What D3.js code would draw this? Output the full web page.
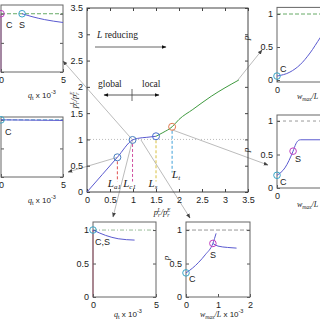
<!DOCTYPE html>
<html><head><meta charset="utf-8">
<script src="https://cdn.jsdelivr.net/npm/d3@7"></script>
<style>
body{margin:0;background:#fff}
svg{display:block}
text{font-family:"Liberation Sans",Arial,sans-serif;fill:#222}
.serif{font-family:"Liberation Serif","Times New Roman",serif}
</style></head><body>
<svg id="c" width="320" height="320"></svg>
<script>
// ---------- data ----------
const mainTicks = [0,0.5,1,1.5,2,2.5,3,3.5];
const blueCurveX = [0,0.33,0.66,0.99,1.1,1.3,1.5];
const blueCurveY = [0,0.33,0.66,0.99,1.02,1.04,1.06];
const greenCurveX = [1.5,1.65,1.85,2.0,2.3,2.7,3.3];
const greenCurveY = [1.06,1.13,1.24,1.38,1.57,1.82,2.13];
const markerX = [0.66,0.99,1.5,1.85];
const markerY = [0.66,0.99,1.06,1.24];
const markerSub = ["a1","c1","s","t"];
const markerLabelY = [0.1,0.1,0.1,0.27];

const tlCurveX = [1.7,2.5,3.5,5];      const tlCurveY = [1,0.95,0.9,0.85];
const mlCurveX = [0,2.5,5];             const mlCurveY = [1,0.995,0.99];
const trCurveX = [0,0.41,0.73,1.05,1.37,1.6]; const trCurveY = [0.06,0.12,0.23,0.41,0.64,0.8];
const mrCurveX = [0,0.25,0.51,0.6,0.68,0.75,2]; const mrCurveY = [0.19,0.3,0.55,0.66,0.71,0.72,0.72];
const blCurveX = [0,1,2,3.3];           const blCurveY = [1,0.92,0.87,0.85];
const brCurveX = [0,0.2,0.4,0.6,0.84,0.94]; const brCurveY = [0.36,0.43,0.52,0.63,0.8,0.95];
const brBranchX = [0.84,1.0,1.3,1.58];  const brBranchY = [0.8,0.76,0.74,0.73];
const qTicks = [0,5];
const wTicks = [0,1,2];
const wTicksRight = [0];
const pTicks = [0,0.5,1];

// ---------- setup ----------
const svg = d3.select("#c");
const defs = svg.append("defs");
defs.append("marker").attr("id","ah").attr("viewBox","0 0 10 10").attr("refX",9).attr("refY",5)
  .attr("markerWidth",6).attr("markerHeight",6).attr("orient","auto")
  .append("path").attr("d","M0,1 L10,5 L0,9 z").attr("fill","#444");
defs.append("marker").attr("id","ahb").attr("viewBox","0 0 10 10").attr("refX",9).attr("refY",5)
  .attr("markerWidth",6).attr("markerHeight",5).attr("orient","auto")
  .append("path").attr("d","M0,1 L10,5 L0,9 z").attr("fill","#111");

const zip = (a,b)=>a.map((v,i)=>[v,b[i]]);
const C_BLUE="#5a5ad0", C_GREEN="#3f9a3f", C_CYAN="#3aa6c8", C_MAG="#c040c0";

function box(g,x0,x1,y0,y1,col){
  g.append("rect").attr("x",x0).attr("y",y1).attr("width",x1-x0).attr("height",y0-y1)
   .attr("fill","none").attr("stroke",col||"#555").attr("stroke-width",1);
}

// ---------- connectors (behind) ----------
const conn = svg.append("g").attr("stroke","#aaa").attr("stroke-width",0.8).attr("fill","none");
const mx = d3.scaleLinear().domain([0,3.5]).range([87,248]);
const my = d3.scaleLinear().domain([0,3.5]).range([192,8]);
function connect(x1,y1,x2,y2){conn.append("line").attr("x1",x1).attr("y1",y1).attr("x2",x2).attr("y2",y2).attr("marker-end","url(#ah)");}
connect(mx(0.99),my(0.99),63,61);
connect(mx(0.66),my(0.66),68,172);
connect(mx(0.99),my(0.99),113,217);
connect(141,140,190,218);
connect(mx(1.85),my(1.24)+3,268,165);
connect(mx(3.28),my(2.13),262,50);

// ---------- main plot ----------
const main = svg.append("g");
main.append("line").attr("x1",mx(0)).attr("x2",mx(3.5)).attr("y1",my(1)).attr("y2",my(1))
  .attr("stroke","#bbb").attr("stroke-dasharray","1,2");
main.append("g").attr("transform",`translate(0,${my(0)})`)
  .call(d3.axisBottom(mx).tickValues(mainTicks).tickFormat(d3.format("")).tickSizeInner(-3).tickSizeOuter(0).tickPadding(5));
main.append("g").attr("transform",`translate(${mx(0)},0)`)
  .call(d3.axisLeft(my).tickValues(mainTicks).tickFormat(d3.format("")).tickSizeInner(-3).tickSizeOuter(0).tickPadding(4));
main.append("g").attr("transform",`translate(0,${my(3.5)})`)
  .call(d3.axisTop(mx).tickValues(mainTicks).tickFormat("").tickSizeInner(-3).tickSizeOuter(0));
main.append("g").attr("transform",`translate(${mx(3.5)},0)`)
  .call(d3.axisRight(my).tickValues(mainTicks).tickFormat("").tickSizeInner(-3).tickSizeOuter(0));
main.selectAll(".domain").remove();
main.selectAll(".tick line").attr("stroke","#444");
main.selectAll(".tick text").attr("font-size",9).attr("fill","#222").attr("font-family","Liberation Sans, Arial");
box(main,mx(0),mx(3.5),my(0),my(3.5),"#444");

const line = d3.line().x(d=>mx(d[0])).y(d=>my(d[1])).curve(d3.curveMonotoneX);
main.append("path").attr("d",line(zip(blueCurveX,blueCurveY))).attr("fill","none").attr("stroke",C_BLUE).attr("stroke-width",1);
main.append("path").attr("d",line(zip(greenCurveX,greenCurveY))).attr("fill","none").attr("stroke",C_GREEN).attr("stroke-width",1);

const dashCols = ["#e05050","#d050a0","#d8c040","#40a0d8"];
const circCols = ["#4a7fc0","#4a7fc0","#4a6fd0","#e07a50"];
markerX.forEach((x,i)=>{
  main.append("line").attr("x1",mx(x)).attr("x2",mx(x)).attr("y1",my(markerY[i])+4).attr("y2",my(markerLabelY[i]+0.1))
    .attr("stroke",dashCols[i]).attr("stroke-width",1).attr("stroke-dasharray","3,2");
  main.append("circle").attr("cx",mx(x)).attr("cy",my(markerY[i])).attr("r",3.5)
    .attr("fill","none").attr("stroke",circCols[i]).attr("stroke-width",1);
  const t = main.append("text").attr("class","serif").attr("x",mx(x)+(i==3?4:-3)).attr("y",my(markerLabelY[i])).attr("text-anchor","middle")
    .attr("font-size",11).attr("font-style","italic");
  t.append("tspan").text("L");
  t.append("tspan").attr("font-size",7).attr("dy",2).text(markerSub[i]);
});

// annotations
main.append("text").attr("class","serif").attr("x",97).attr("y",38).attr("font-size",9.5)
  .html('<tspan font-style="italic">L</tspan> reducing');
main.append("line").attr("x1",95).attr("x2",166).attr("y1",47).attr("y2",47).attr("stroke","#555").attr("stroke-width",0.9).attr("marker-end","url(#ahb)");
main.append("text").attr("class","serif").attr("x",98).attr("y",87).attr("font-size",9.5).text("global");
main.append("text").attr("class","serif").attr("x",142).attr("y",87).attr("font-size",9.5).text("local");
main.append("line").attr("x1",132).attr("x2",104).attr("y1",95).attr("y2",95).attr("stroke","#444").attr("stroke-width",0.9).attr("marker-end","url(#ahb)");
main.append("line").attr("x1",132).attr("x2",159).attr("y1",95).attr("y2",95).attr("stroke","#444").attr("stroke-width",0.9).attr("marker-end","url(#ahb)");
main.append("line").attr("x1",132).attr("x2",132).attr("y1",89).attr("y2",101).attr("stroke","#444").attr("stroke-width",0.8);

// axis labels main
function ratioLabel(t){
  t.append("tspan").text("p");t.append("tspan").attr("font-size",5.5).attr("dy",2).text("r");t.append("tspan").attr("font-size",5.5).attr("dy",-5.5).attr("dx",-2.5).text("L");
  t.append("tspan").attr("dy",3.5).text("/p");t.append("tspan").attr("font-size",5.5).attr("dy",2).text("r");t.append("tspan").attr("font-size",5.5).attr("dy",-5.5).attr("dx",-2.5).text("E");
}
ratioLabel(main.append("text").attr("class","serif").attr("x",162).attr("y",215).attr("text-anchor","middle").attr("font-size",8.5).attr("font-style","italic"));
ratioLabel(main.append("text").attr("class","serif").attr("transform","translate(77,100) rotate(-90)").attr("text-anchor","middle").attr("font-size",8.5).attr("font-style","italic"));

// ---------- subplots ----------
function sub(cfg){
  const g = svg.append("g");
  const sx = d3.scaleLinear().domain(cfg.xd).range(cfg.xr);
  const sy = d3.scaleLinear().domain(cfg.yd).range(cfg.yr);
  g.append("line").attr("x1",cfg.xr[0]).attr("x2",cfg.xr[1]).attr("y1",sy(1)).attr("y2",sy(1))
    .attr("stroke",cfg.dashCol||"#6a6").attr("stroke-width",1).attr("stroke-dasharray",cfg.dashArr||"4,2");
  if(cfg.vline) g.append("line").attr("x1",sx(0)).attr("x2",sx(0)).attr("y1",cfg.yr[0]).attr("y2",sy(1))
    .attr("stroke",cfg.vline).attr("stroke-width",1.2);
  g.append("g").attr("transform",`translate(0,${cfg.yr[0]})`)
    .call(d3.axisBottom(sx).tickValues(cfg.xt).tickFormat(d3.format("")).tickSizeInner(-3).tickSizeOuter(0).tickPadding(5));
  g.append("g").attr("transform",`translate(${cfg.xr[0]},0)`)
    .call(d3.axisLeft(sy).tickValues(pTicks).tickFormat(cfg.noY ? "" : d3.format("")).tickSizeInner(-3).tickSizeOuter(0).tickPadding(4));
  g.append("g").attr("transform",`translate(${cfg.xr[1]},0)`)
    .call(d3.axisRight(sy).tickValues(pTicks).tickFormat("").tickSizeInner(-3).tickSizeOuter(0));
  g.selectAll(".domain").remove();
  g.selectAll(".tick line").attr("stroke","#555");
  g.selectAll(".tick text").attr("font-size",9).attr("fill","#222").attr("font-family","Liberation Sans, Arial");
  box(g,cfg.xr[0],cfg.xr[1],cfg.yr[0],cfg.yr[1],"#666");
  const ln = d3.line().x(d=>sx(d[0])).y(d=>sy(d[1])).curve(d3.curveMonotoneX);
  cfg.curves.forEach(c=>g.append("path").attr("d",ln(c)).attr("fill","none").attr("stroke",C_BLUE).attr("stroke-width",1));
  cfg.pts.forEach(p=>g.append("circle").attr("cx",sx(p[0])).attr("cy",sy(p[1])).attr("r",3.3).attr("fill","none").attr("stroke",p[2]).attr("stroke-width",1));
  cfg.labels.forEach(t=>g.append("text").attr("x",t[0]).attr("y",t[1]).attr("font-size",9).text(t[2]));
  const lx = g.append("text").attr("x",cfg.xl[0]).attr("y",cfg.xl[1]).attr("font-size",8);
  if(cfg.q){ lx.append("tspan").attr("class","serif").attr("font-style","italic").text("q");
    lx.append("tspan").attr("font-size",5.5).attr("dy",2).text("t"); lx.append("tspan").attr("dy",-2).text("   x 10");
  } else { lx.append("tspan").attr("class","serif").attr("font-style","italic").text("w");
    lx.append("tspan").attr("font-size",5.5).attr("dy",2).attr("class","serif").attr("font-style","italic").text("max");
    lx.append("tspan").attr("dy",-2).attr("class","serif").attr("font-style","italic").text("/L");
    lx.append("tspan").text(" x 10"); }
  lx.append("tspan").attr("font-size",5.5).attr("dy",-4).text("-3");
  if(cfg.pl) g.append("text").attr("class","serif").attr("font-style","italic").attr("font-size",9)
    .attr("transform",`translate(${cfg.pl[0]},${cfg.pl[1]}) rotate(-90)`).attr("text-anchor","middle").text("p");
}

// top-left
sub({xd:[0,5],xr:[1,63],yd:[0,1.15],yr:[72,5],xt:qTicks,q:true,noY:true,xl:[28,98],vline:"#d070c8",
  curves:[zip(tlCurveX,tlCurveY)],pts:[[0,1,C_MAG],[1.7,1,C_CYAN]],labels:[[6,28,"C"],[19,28,"S"]]});
// middle-left
sub({xd:[0,5],xr:[1,63],yd:[0,1.05],yr:[177,117],xt:qTicks,q:true,noY:true,xl:[28,203],dashCol:"#5ab",
  curves:[zip(mlCurveX,mlCurveY)],pts:[[0,1,C_CYAN]],labels:[[5,135,"C"]]});
// top-right
sub({xd:[0,2],xr:[277,340],yd:[-0.03,1.1],yr:[82,7.4],xt:wTicksRight,q:false,xl:[297,99],pl:[249,38],
  curves:[zip(trCurveX,trCurveY)],pts:[[0,0.06,C_CYAN]],labels:[[280,72,"C"]]});
// middle-right
sub({xd:[0,2],xr:[277,340],yd:[0,1.09],yr:[188,115],xt:wTicksRight,q:false,xl:[297,207],pl:[249,150],dashArr:"3,3",dashCol:"#999",
  curves:[zip(mrCurveX,mrCurveY)],pts:[[0,0.19,C_CYAN],[0.51,0.55,C_MAG]],labels:[[280,185,"C"],[295,162,"S"]]});
// bottom-left
sub({xd:[0,5],xr:[93,156],yd:[0,1.12],yr:[297,222],xt:qTicks,q:true,xl:[114,317],dashArr:"4,2,1,2",dashCol:"#9b9",vline:"#e07090",
  curves:[zip(blCurveX,blCurveY)],pts:[[0,1,C_CYAN]],labels:[[95,245,"C,S"]]});
// bottom-right
sub({xd:[0,2],xr:[186,250],yd:[0,1.12],yr:[297,222],xt:wTicks,q:false,xl:[200,317],pl:[169,258],dashCol:"#999",
  curves:[zip(brCurveX,brCurveY),zip(brBranchX,brBranchY)],pts:[[0,0.36,C_CYAN],[0.84,0.8,C_MAG]],labels:[[189,282,"C"],[210,258,"S"]]});
</script></body></html>
